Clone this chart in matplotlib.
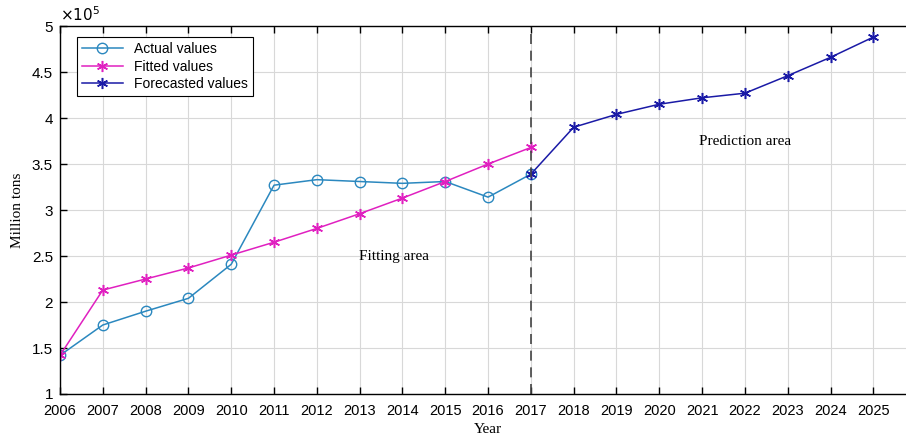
import numpy as np
import matplotlib.pyplot as plt

years_fit = np.arange(2006, 2018)
years_fc = np.arange(2017, 2026)

# values in units of 1e5
actual = [1.42, 1.75, 1.90, 2.04, 2.41, 3.27, 3.33, 3.31, 3.29, 3.31, 3.14, 3.39]
fitted = [1.42, 2.13, 2.25, 2.37, 2.51, 2.65, 2.80, 2.96, 3.13, 3.31, 3.50, 3.68]
forecast = [3.39, 3.90, 4.04, 4.15, 4.22, 4.27, 4.46, 4.66, 4.88]

x_ticks = np.arange(2006, 2026)
y_ticks = np.arange(1, 5.01, 0.5)

sans = ['Liberation Sans', 'DejaVu Sans']
serif = ['Liberation Serif', 'DejaVu Serif']
asterisk = (6, 2, 0)

fig = plt.figure(figsize=(9.06, 4.37), dpi=100)
ax = fig.add_axes([0.0662, 0.0984, 0.945, 0.842])

ax.plot(years_fit, actual, color='#2b88bf', lw=1.1, marker='o', ms=7.5,
        mfc='none', mew=1.0, label='Actual values')
ax.plot(years_fit, fitted, color='#e020c0', lw=1.1, marker=asterisk, ms=8,
        mew=1.1, label='Fitted values')
ax.plot(years_fc, forecast, color='#1a1aa6', lw=1.1, marker=asterisk, ms=8,
        mew=1.1, label='Forecasted values')

ax.axvline(2017, color='#444444', ls=(0, (6, 4)), lw=1.2)

ax.set_xlim(2006, 2026)
ax.set_ylim(1, 5)
ax.set_xticks(x_ticks)
ax.set_xticklabels([str(y) for y in x_ticks], family=sans, fontsize=10.5)
ax.set_yticks(y_ticks)
ax.set_yticklabels(['%g' % v for v in y_ticks], family=sans, fontsize=11)
ax.tick_params(direction='in', top=True, right=False, length=5, width=1.0)
ax.tick_params(axis='x', pad=7)
ax.tick_params(axis='y', pad=5)
ax.spines['right'].set_visible(False)
ax.grid(True, color='#d8d8d8', lw=0.8)
for s in ax.spines.values():
    s.set_linewidth(1.0)

ax.set_xlabel('Year', family=serif, fontsize=11, labelpad=4)
ax.set_ylabel('Million tons', family=serif, fontsize=11, labelpad=6)

ax.text(2013.8, 2.5, 'Fitting area', family=serif, fontsize=11,
        ha='center', va='center')
ax.text(2022.0, 3.74, 'Prediction area', family=serif, fontsize=11,
        ha='center', va='center')
ax.text(0.0, 1.005, r'$\times10^5$', transform=ax.transAxes, fontsize=11,
        ha='left', va='bottom', family=sans)

leg = ax.legend(loc='upper left', prop={'family': sans, 'size': 10},
                fancybox=False, edgecolor='black', framealpha=1,
                borderpad=0.35, labelspacing=0.25, handlelength=3.0,
                bbox_to_anchor=(0.0115, 0.988))
leg.get_frame().set_linewidth(0.8)

fig.savefig('out.png', dpi=100)
